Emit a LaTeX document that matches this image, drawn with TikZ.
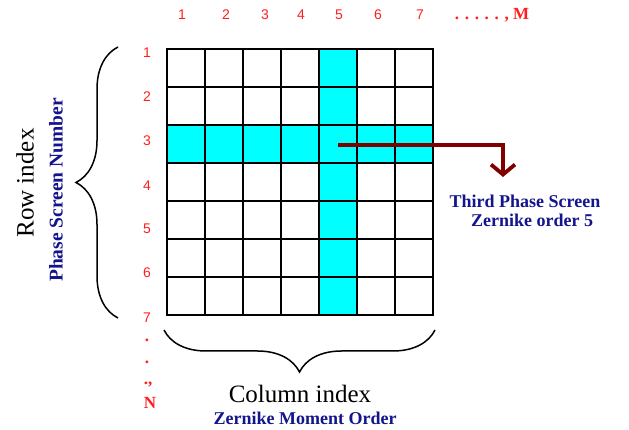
\documentclass[tikz,border=0pt]{standalone}
\usepackage{fontspec}
\setmainfont{Liberation Serif}
\newfontfamily\digitfont{Liberation Sans}
\usetikzlibrary{decorations.pathreplacing,arrows.meta}
\definecolor{gridcyan}{RGB}{0,255,255}
\definecolor{arrowred}{RGB}{128,0,0}
\definecolor{labelblue}{RGB}{20,20,140}
\definecolor{numred}{RGB}{255,30,30}

\begin{document}
\begin{tikzpicture}[x=1pt,y=1pt,
    num/.style={text=numred,font=\digitfont\fontsize{14}{16}\selectfont,inner sep=0pt},
    bignum/.style={text=numred,font=\bfseries\fontsize{17}{19}\selectfont,inner sep=0pt},
    index/.style={font=\fontsize{25}{28}\selectfont,inner sep=0pt},
    bluetext/.style={text=labelblue,font=\bfseries\fontsize{18}{20}\selectfont,inner sep=0pt},
    bigbrace/.style={decorate,decoration={brace,amplitude=42pt},line width=1.5pt}]
    \useasboundingbox (0,0) rectangle (629,430);

    \fill[gridcyan] (167,267) rectangle (433,305);
    \fill[gridcyan] (319,115) rectangle (357,381);
    \begin{scope}[shift={(167,115)}]
        \draw[step=38,black,line width=1.6pt,line cap=rect] (0,0) grid (266.2,266.2);
    \end{scope}

    \node[num] (c1) at (182,415) {1};
    \node[num] (c2) at (226,415) {2};
    \node[num] (c3) at (265,415) {3};
    \node[num] (c4) at (301,415) {4};
    \node[num] (c5) at (339,415) {5};
    \node[num] (c6) at (378,415) {6};
    \node[num] (c7) at (420,415) {7};
    \node[bignum] (cM) at (492,415) {. . . . . , M};

    \node[num] (r1) at (147,377) {1};
    \node[num] (r2) at (147,333) {2};
    \node[num] (r3) at (147,289) {3};
    \node[num] (r4) at (147,244) {4};
    \node[num] (r5) at (147,201) {5};
    \node[num] (r6) at (147,157) {6};
    \node[num] (r7) at (147,112) {7};
    \node[bignum] (d1) at (147,90) {.};
    \node[bignum] (d2) at (147,68) {.};
    \node[bignum] (d3) at (148,45) {.,};
    \node[bignum] (rN) at (150,27) {N};

    \coordinate (lbbot) at (118,112);
    \coordinate (lbtop) at (118,383);
    \draw[bigbrace] (lbbot) -- (lbtop);
    \coordinate (bbright) at (435,100);
    \coordinate (bbleft) at (164,100);
    \draw[bigbrace] (bbright) -- (bbleft);

    \node[index,rotate=90] (rowidx) at (25,247) {Row index};
    \node[bluetext,rotate=90,font=\bfseries\fontsize{19.5}{21}\selectfont] (rowname) at (56,240) {Phase Screen Number};
    \node[index] (colidx) at (300,36) {Column index};
    \node[bluetext] (colname) at (305,12) {Zernike Moment Order};

    \node[bluetext] (third) at (525,229) {Third Phase Screen};
    \node[bluetext] (order) at (532,210) {Zernike order 5};
    \coordinate (cell) at (338,285);
    \coordinate (tip) at (503,253);
    \draw[arrowred,line width=3.8pt,-{Straight Barb[length=10pt,width=24pt]}] (cell) -| (tip);
\end{tikzpicture}
\end{document}
